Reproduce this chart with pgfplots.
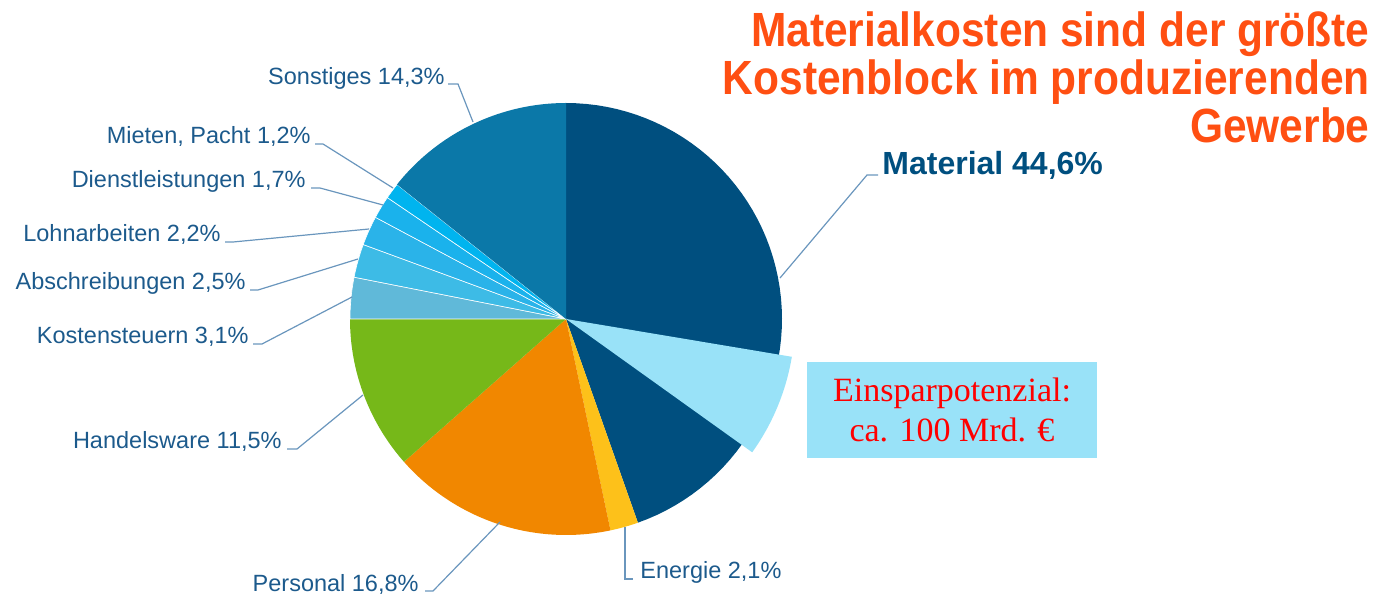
\documentclass[border=0pt]{standalone}
\usepackage{fontspec}
\setmainfont{Liberation Sans}
\newfontfamily\seriffont{Liberation Serif}
\newfontfamily\titlefont[FakeStretch=0.885]{Liberation Sans}
\usepackage{pgfplots}
\pgfplotsset{compat=1.18}
\definecolor{cMat}{HTML}{004F7F}
\definecolor{cSon}{HTML}{0B78A8}
\definecolor{cMie}{HTML}{00B4EF}
\definecolor{cDie}{HTML}{1AB2EC}
\definecolor{cLoh}{HTML}{2AB3E9}
\definecolor{cAbs}{HTML}{3DBBE6}
\definecolor{cKos}{HTML}{60B9D9}
\definecolor{cHan}{HTML}{76B819}
\definecolor{cPer}{HTML}{F18700}
\definecolor{cEne}{HTML}{FDC11A}
\definecolor{cWedge}{HTML}{99E2F8}
\definecolor{cLabel}{HTML}{1C5A8C}
\definecolor{cLead}{HTML}{6A96BD}
\definecolor{cTitle}{HTML}{FF4F12}
% sector: [draw opts]{colour}{cumulative start %}{cumulative end %}
\newcommand{\sector}[4][draw=none]{%
  \addplot[fill=#2, #1, domain={90-3.6*#4}:{90-3.6*#3}, samples=60]
    ({566+216*cos(x)},{319-216*sin(x)}) -- (566,319) -- cycle;}
\begin{document}
\begin{tikzpicture}
\begin{axis}[scale only axis, width=688.5pt, height=299pt,
  xmin=0, xmax=1377, ymin=0, ymax=598, y dir=reverse,
  hide axis, clip=false]
\path (0,0) rectangle (1377,598);
% slices (percent values, cumulative): Material 44.6, Energie 2.1, Personal 16.8,
% Handelsware 11.5, Kostensteuern 3.1, Abschreibungen 2.5, Lohnarbeiten 2.2,
% Dienstleistungen 1.7, Mieten/Pacht 1.2, Sonstiges 14.3
\sector{cMat}{0}{44.6}
\sector{cEne}{44.6}{46.7}
\sector{cPer}{46.7}{63.5}
\sector{cHan}{63.5}{75.0}
\sector[draw=white,line width=0.3pt]{cKos}{75.0}{78.1}
\sector[draw=white,line width=0.3pt]{cAbs}{78.1}{80.6}
\sector[draw=white,line width=0.3pt]{cLoh}{80.6}{82.8}
\sector[draw=white,line width=0.3pt]{cDie}{82.8}{84.5}
\sector[draw=white,line width=0.3pt]{cMie}{84.5}{85.7}
\sector{cSon}{85.7}{100}
% Einsparpotenzial wedge (enlarged part of Material)
\addplot[fill=cWedge, draw=none, domain=-35.6:-9.5, samples=40]
  ({566+229*cos(x)},{319-229*sin(x)}) -- (566,319) -- cycle;
% leader lines
\begin{scope}[cLead, line width=0.6pt]
\draw (448,84) -- (458,84) -- (473,122);
\draw (315,144) -- (323,144) -- (393,188);
\draw (311,188) -- (320,188) -- (383,205);
\draw (225,242) -- (233,242) -- (369,229);
\draw (250,290) -- (258,290) -- (358,259);
\draw (253,344) -- (262,344) -- (352,297);
\draw (287,449) -- (297,449) -- (363,395);
\draw (425,591) -- (433,591) -- (500,522);
\draw (625,527) -- (625,579) -- (633,579);
\draw (878,175) -- (867,175) -- (780,278);
\end{scope}
% labels
\begin{scope}[every node/.style={text=cLabel, font=\fontsize{11.75}{14}\selectfont, inner sep=0pt}]
\node[anchor=base east] at (445,85) {Sonstiges 14,3\%};
\node[anchor=base east] at (311,144) {Mieten, Pacht 1,2\%};
\node[anchor=base east] at (306,188) {Dienstleistungen 1,7\%};
\node[anchor=base east] at (221,242) {Lohnarbeiten 2,2\%};
\node[anchor=base east] at (246,290) {Abschreibungen 2,5\%};
\node[anchor=base east] at (249,344) {Kostensteuern 3,1\%};
\node[anchor=base east] at (282,449) {Handelsware 11,5\%};
\node[anchor=base east] at (419,591) {Personal 16,8\%};
\node[anchor=base west] at (640,579) {Energie 2,1\%};
\end{scope}
\node[anchor=base west, inner sep=0pt, text=cMat, font=\fontsize{16}{19}\selectfont\bfseries] at (882,175) {Material 44,6\%};
% title
\begin{scope}[every node/.style={anchor=base east, inner sep=0pt, text=cTitle, font=\titlefont\fontsize{24}{28}\selectfont\bfseries}]
\node at (1370,47) {Materialkosten sind der größte};
\node at (1370,95) {Kostenblock im produzierenden};
\node at (1370,143) {Gewerbe};
\end{scope}
% savings box
\fill[cWedge] (807,362) rectangle (1097,458);
\node[anchor=base, inner sep=0pt, text=red, font=\seriffont\fontsize{17}{20}\selectfont] at (952,402) {Einsparpotenzial:};
\node[anchor=base, inner sep=0pt, text=red, font=\seriffont\fontsize{17}{20}\selectfont] at (952,442) {ca. 100 Mrd. €};
\end{axis}
\end{tikzpicture}
\end{document}
